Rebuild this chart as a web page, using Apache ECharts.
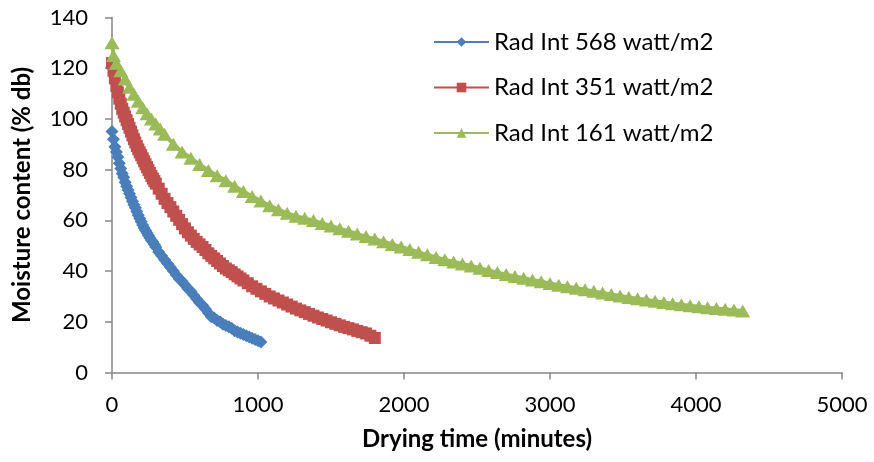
<!DOCTYPE html>
<html>
<head>
<meta charset="utf-8">
<script src="https://cdn.jsdelivr.net/npm/echarts@6/dist/echarts.min.js"></script>
<style>html,body{margin:0;padding:0;background:#fff}#c{width:874px;height:462px}</style>
</head>
<body>
<div id="c"></div>
<script>
// Series names
const seriesNames = ['Rad Int 568 watt/m2', 'Rad Int 351 watt/m2', 'Rad Int 161 watt/m2'];

// Rad Int 568 watt/m2 : time (min) and moisture (% db)
const t568 = [0,10,20,30,40,50,60,70,80,90,100,110,120,130,140,150,160,170,180,190,200,210,220,230,240,250,260,270,280,290,300,320,340,360,380,400,420,440,460,480,500,520,540,560,580,600,620,640,660,680,700,720,740,760,780,800,820,840,860,880,900,920,940,960,980,1000,1020];
const m568 = [95,92,89,87,85,82.5,80.5,78.5,77,75,73.5,72,70.5,69,67.5,66.2,65,63.5,62,60.7,59.5,58.2,57,56,55,54,53,52.2,51.5,50.5,49.5,47.5,46,44.5,43,41.5,40,38.5,37,36,34.5,33,32,30.5,29,27.5,26.5,25,23.5,22,21.5,20.5,20,19,18.5,18,17.5,16.5,16,15.5,15,14.5,14,13.5,13,12.5,12];

// Rad Int 351 watt/m2
const t351 = [0,10,20,30,40,50,60,70,80,90,100,110,120,130,140,150,160,170,180,190,200,210,220,230,240,250,260,270,280,290,300,320,340,360,380,400,420,440,460,480,500,520,540,560,580,600,620,640,660,680,700,720,740,760,780,800,820,840,860,880,900,930,960,990,1020,1050,1080,1110,1140,1170,1200,1230,1260,1290,1320,1350,1380,1410,1440,1470,1500,1530,1560,1590,1620,1650,1680,1710,1740,1770,1800];
const m351 = [122,119,116,113,110.5,108,106,104,102.5,101,99.5,98,96.5,95,93.5,92,90.7,89.3,88,86.8,85.7,84.5,83.3,82.1,81,79.8,78.7,77.5,76.5,75.5,74.5,72.5,70.5,68.5,66.8,65.2,63.5,61.8,60.2,58.5,56.8,55.3,54,52.7,51.5,50.5,49.5,48.3,47,46,45,44,43,42,41,40.3,39.6,38.7,37.9,37.1,36.3,35.2,34,33,32,31,30,29.2,28.4,27.6,26.8,26,25.2,24.5,23.8,23.1,22.4,21.7,21.1,20.5,19.8,19.2,18.6,18,17.5,17,16.4,15.9,15.4,14.5,13.6];

// Rad Int 161 watt/m2
const t161 = [0,10,30,60,90,120,150,180,210,240,270,300,330,360,420,480,540,600,660,720,780,840,900,960,1020,1080,1140,1200,1260,1320,1380,1440,1500,1560,1620,1680,1740,1800,1860,1920,1980,2040,2100,2160,2220,2280,2340,2400,2460,2520,2580,2640,2700,2760,2820,2880,2940,3000,3060,3120,3180,3240,3300,3360,3420,3480,3540,3600,3660,3720,3780,3840,3900,3960,4020,4080,4140,4200,4260,4320];
const m161 = [130,125,122,119,115.7,112.5,109.7,107,104.4,102,100,98,96,94,90,87,84.5,82,79.7,77.6,75.6,73.5,71.4,69.4,67.6,65.8,64.2,62.8,61.6,60.8,59.9,58.8,57.8,56.7,55.7,54.6,53.6,52.6,51.6,50.5,49.5,48.5,47.4,46.4,45.4,44.5,43.6,42.8,42,41.1,40.2,39.4,38.6,37.9,37.2,36.5,35.8,35.1,34.4,33.8,33.2,32.6,32,31.4,30.8,30.2,29.6,29.1,28.6,28.1,27.6,27.1,26.7,26.3,25.9,25.5,25.2,24.9,24.6,24.3];

const zip = (a, b) => a.map((v, i) => [v, b[i]]);
const font = 'Lato, "Open Sans", sans-serif';
const axisColor = '#868686';

const chart = echarts.init(document.getElementById('c'), null, {renderer: 'canvas'});
chart.setOption({
  animation: false,
  backgroundColor: '#fff',
  grid: {left: 112, right: 32, top: 17.5, bottom: 89.5},
  legend: {
    orient: 'vertical', left: 433, top: 30, padding: 0,
    itemWidth: 55, itemHeight: 12, itemGap: 21.5,
    textStyle: {fontFamily: font, fontSize: 24, color: '#000'},
    data: seriesNames
  },
  xAxis: {
    type: 'value', min: 0, max: 5000, interval: 1000,
    name: 'Drying time (minutes)', nameLocation: 'middle', nameGap: 55,
    nameTextStyle: {fontFamily: font, fontSize: 24, fontWeight: 'bold', color: '#000'},
    axisLine: {show: true, lineStyle: {color: axisColor, width: 1.5}},
    axisTick: {show: true, length: 7, lineStyle: {color: axisColor, width: 1.5}},
    axisLabel: {fontFamily: font, fontSize: 22, color: '#000', margin: 21, formatter: v => String(v)},
    splitLine: {show: false}
  },
  yAxis: {
    type: 'value', min: 0, max: 140, interval: 20,
    name: 'Moisture content (% db)', nameLocation: 'middle', nameGap: 78,
    nameTextStyle: {fontFamily: font, fontSize: 24, fontWeight: 'bold', color: '#000'},
    axisLine: {show: true, lineStyle: {color: axisColor, width: 1.5}},
    axisTick: {show: true, length: 7, lineStyle: {color: axisColor, width: 1.5}},
    axisLabel: {fontFamily: font, fontSize: 22, color: '#000', margin: 24, formatter: v => String(v)},
    splitLine: {show: false}
  },
  series: [
    {name: seriesNames[0], type: 'line', data: zip(t568, m568), symbol: 'diamond', symbolSize: 13,
     showAllSymbol: true, color: '#4A7EBB', lineStyle: {width: 4, color: '#4A7EBB'}, itemStyle: {color: '#4A7EBB'}},
    {name: seriesNames[1], type: 'line', data: zip(t351, m351), symbol: 'rect', symbolSize: 12,
     showAllSymbol: true, color: '#C0504D', lineStyle: {width: 4, color: '#C0504D'}, itemStyle: {color: '#C0504D'}},
    {name: seriesNames[2], type: 'line', data: zip(t161, m161), symbol: 'triangle', symbolSize: [15, 13],
     showAllSymbol: true, color: '#9BBB59', lineStyle: {width: 4, color: '#9BBB59'}, itemStyle: {color: '#9BBB59'}}
  ]
});
</script>
</body>
</html>
